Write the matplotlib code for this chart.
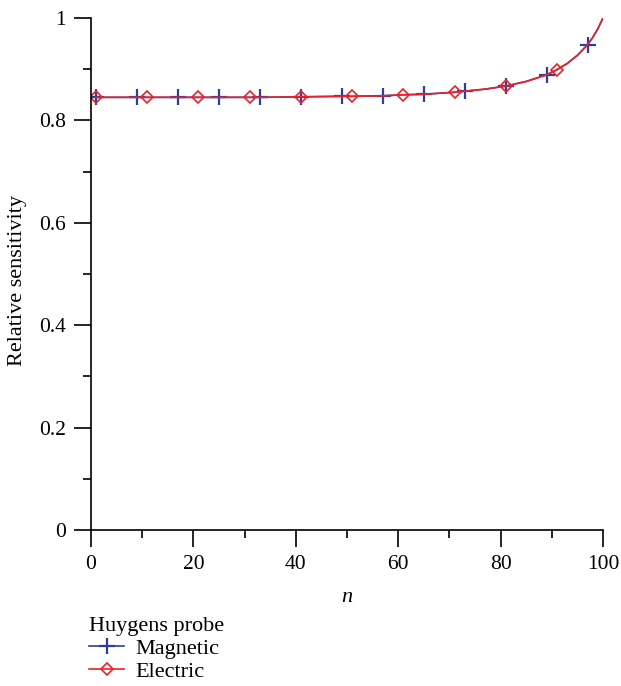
import numpy as np
import matplotlib.pyplot as plt
from matplotlib.ticker import MultipleLocator

plt.rcParams['font.family'] = ['Liberation Serif', 'DejaVu Serif']

# -----------------------------
# Data
# -----------------------------
n = [1, 9, 11, 17, 21, 25, 31, 33, 41, 49, 51, 57, 61, 65, 71, 73, 77,
     81, 85, 89, 91, 93, 95, 97, 98, 99, 100]
magnetic = [0.845, 0.845, 0.845, 0.845, 0.845, 0.845, 0.845, 0.845, 0.846,
            0.847, 0.847, 0.848, 0.850, 0.851, 0.855, 0.857, 0.861,
            0.867, 0.876, 0.889, 0.899, 0.911, 0.927, 0.948, 0.962, 0.979, 1.0]
electric = [0.845, 0.845, 0.845, 0.845, 0.845, 0.845, 0.845, 0.845, 0.846,
            0.847, 0.847, 0.848, 0.850, 0.851, 0.855, 0.857, 0.861,
            0.867, 0.876, 0.889, 0.899, 0.911, 0.927, 0.948, 0.962, 0.979, 1.0]

# where the markers sit on each curve
n_mag_marks = [1, 9, 17, 25, 33, 41, 49, 57, 65, 73, 81, 89, 97]
n_ele_marks = [1, 11, 21, 31, 41, 51, 61, 71, 81, 91]

mag_every = [n.index(v) for v in n_mag_marks]
ele_every = [n.index(v) for v in n_ele_marks]

blue = '#2c3f98'
red = '#e8222c'

fig = plt.figure(figsize=(6.21, 6.86), dpi=100)
ax = fig.add_axes([0.1465, 0.2274, 0.8245, 0.7464])

ax.plot(n, magnetic, color=blue, lw=1.2, marker='+', ms=11, mew=1.6,
        markevery=mag_every, label='Magnetic')
ax.plot(n, electric, color=red, lw=1.2, marker='D', ms=6.3, mew=1.2,
        mfc='none', markevery=ele_every, label='Electric')

ax.set_xlim(0, 100)
ax.set_ylim(0, 1)
ax.set_xticks([0, 20, 40, 60, 80, 100])
ax.set_yticks([0, 0.2, 0.4, 0.6, 0.8, 1])
ax.set_yticklabels(['0', '0.2', '0.4', '0.6', '0.8', '1'])
ax.xaxis.set_minor_locator(MultipleLocator(10))
ax.yaxis.set_minor_locator(MultipleLocator(0.1))

ax.spines['top'].set_visible(False)
ax.spines['right'].set_visible(False)
for s in ['left', 'bottom']:
    ax.spines[s].set_linewidth(1.2)
ax.spines['left'].set_bounds(0, 1)
ax.spines['bottom'].set_bounds(0, 100)

ax.tick_params(which='major', direction='out', length=12, width=1.2,
               labelsize=15.5, pad=6)
ax.tick_params(which='minor', direction='out', length=6, width=1.2)

ax.set_xlabel('n', fontsize=16, style='italic', labelpad=10)
ax.set_ylabel('Relative sensitivity', fontsize=16)
ax.yaxis.set_label_coords(-0.124, 0.487)

leg = fig.legend(loc='upper left', bbox_to_anchor=(0.143, 0.101), frameon=False,
                 title='Huygens probe', fontsize=16, title_fontsize=16,
                 alignment='left', handlelength=1.6, handletextpad=0.5,
                 labelspacing=0.12, borderaxespad=0, borderpad=0)

fig.savefig('out.png', dpi=100)
